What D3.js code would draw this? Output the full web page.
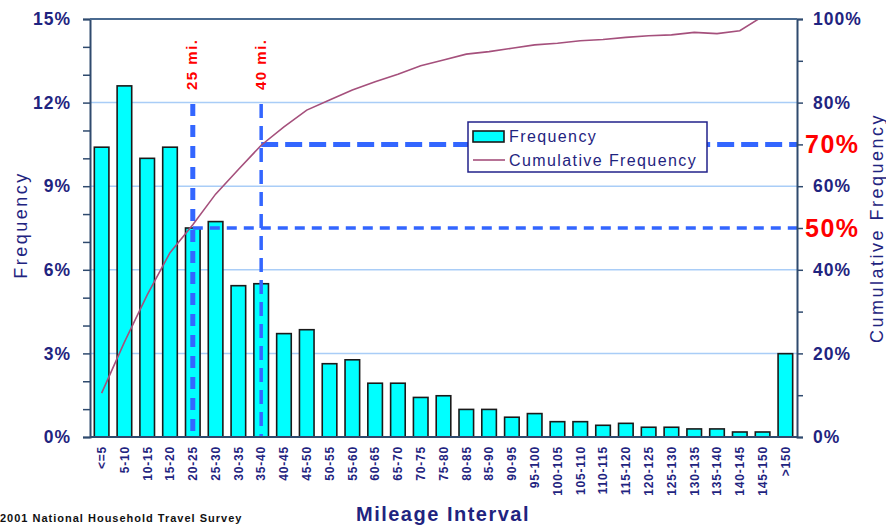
<!DOCTYPE html>
<html><head><meta charset="utf-8">
<script src="https://cdn.jsdelivr.net/npm/d3@7"></script>
<style>
html,body{margin:0;padding:0;background:#fff;}
svg{display:block;font-family:"Liberation Sans",Arial,sans-serif;}
</style></head>
<body>
<svg id="chart" width="886" height="525"></svg>
<script>
const categories = ["<=5","5-10","10-15","15-20","20-25","25-30","30-35","35-40","40-45","45-50","50-55","55-60","60-65","65-70","70-75","75-80","80-85","85-90","90-95","95-100","100-105","105-110","110-115","115-120","120-125","125-130","130-135","135-140","140-145","145-150",">150"];
const frequency = [10.4,12.6,10.0,10.4,7.5,7.73,5.43,5.5,3.71,3.85,2.63,2.77,1.93,1.93,1.42,1.48,0.99,0.99,0.71,0.84,0.55,0.55,0.42,0.49,0.35,0.35,0.29,0.29,0.18,0.18,2.99];
const cumulative = [10.5,22.7,34.0,44.1,50.8,58.1,64.0,69.8,74.2,78.2,80.6,83.0,85.0,86.8,88.8,90.2,91.6,92.2,93.0,93.8,94.2,94.8,95.1,95.6,96.0,96.2,96.8,96.5,97.2,100.6,104];
const leftTicks = [0,3,6,9,12,15];
const rightTicks = [0,20,40,60,80,100];
const gridValues = [20,40,60,80];
const markers = [{label:"25 mi.", cat:"20-25", pct:50, big:"v"}, {label:"40 mi.", cat:"35-40", pct:70, big:"h"}];
const seriesNames = ["Frequency","Cumulative Frequency"];
const xTitle = "Mileage Interval";
const yTitle = "Frequency";
const y2Title = "Cumulative Frequency";
const sourceNote = "2001 National Household Travel Survey";

const svg = d3.select("#chart");
const L = 90, R = 797, T = 19, B = 437;
const navy = "#1f2480", axisCol = "#2f4a6e", dashCol = "#3366ff", red = "#ff0000";

const x = d3.scaleBand().domain(categories).range([L, R]).paddingInner(0.36).paddingOuter(0.19);
const yL = d3.scaleLinear().domain([0, 15]).range([B, T]);
const yR = d3.scaleLinear().domain([0, 100]).range([B, T]);
const cx = c => x(c) + x.bandwidth() / 2;

// gridlines
svg.append("g").selectAll("line").data(gridValues).join("line")
  .attr("x1", L).attr("x2", R).attr("y1", d => yR(d)).attr("y2", d => yR(d))
  .attr("stroke", "#a9cdf7").attr("stroke-width", 1.5);

// bars
svg.append("g").selectAll("rect").data(categories).join("rect")
  .attr("x", d => x(d)).attr("width", x.bandwidth())
  .attr("y", (d, i) => yL(frequency[i])).attr("height", (d, i) => B - yL(frequency[i]))
  .attr("fill", "#00ffff").attr("stroke", "#1a1a1a").attr("stroke-width", 1.6);

// dashed reference lines
markers.forEach(m => {
  const vx = cx(m.cat), hy = yR(m.pct);
  svg.append("line").attr("x1", vx).attr("x2", vx).attr("y1", yR(80) + 1.5).attr("y2", B)
    .attr("stroke", dashCol).attr("stroke-width", m.big === "v" ? 5 : 3.5)
    .attr("stroke-dasharray", m.big === "v" ? "12,9" : "14,8");
  svg.append("line").attr("x1", vx).attr("x2", R).attr("y1", hy).attr("y2", hy)
    .attr("stroke", dashCol).attr("stroke-width", m.big === "h" ? 5 : 3.5)
    .attr("stroke-dasharray", m.big === "h" ? "17,7" : "10,7");
  svg.append("text").attr("transform", `translate(${vx - 1},90) rotate(-90)`)
    .attr("dy", "0.36em").attr("text-anchor", "start")
    .attr("font-size", 15).attr("font-weight", "bold").attr("letter-spacing", 1.5)
    .attr("fill", red).text(m.label);
  svg.append("text").attr("x", 805).attr("y", hy).attr("dy", "0.36em")
    .attr("font-size", 25).attr("font-weight", "bold").attr("letter-spacing", 1.5)
    .attr("fill", red).text(m.pct + "%");
});

// cumulative line
svg.append("clipPath").attr("id", "clip").append("rect")
  .attr("x", L).attr("y", T).attr("width", R - L).attr("height", B - T);
svg.append("path").datum(categories)
  .attr("clip-path", "url(#clip)")
  .attr("d", d3.line().x(d => cx(d)).y((d, i) => yR(cumulative[i])))
  .attr("fill", "none").attr("stroke", "#a5507c").attr("stroke-width", 1.6);

// legend
const lg = svg.append("g").attr("transform", "translate(468,122)");
lg.append("rect").attr("width", 239).attr("height", 50).attr("fill", "#fff")
  .attr("stroke", "#22228a").attr("stroke-width", 1.5);
lg.append("rect").attr("x", 5).attr("y", 9).attr("width", 31).attr("height", 11)
  .attr("fill", "#00ffff").attr("stroke", "#1a1a1a").attr("stroke-width", 1.6);
lg.append("line").attr("x1", 5).attr("x2", 37).attr("y1", 38).attr("y2", 38)
  .attr("stroke", "#a5507c").attr("stroke-width", 1.6);
lg.selectAll("text.lt").data(seriesNames).join("text").attr("class", "lt")
  .attr("x", 41).attr("y", (d, i) => 14 + i * 24).attr("dy", "0.36em")
  .attr("font-size", 16).attr("fill", navy).attr("letter-spacing", 1.4).text(d => d);

// axes
const gL = svg.append("g").attr("transform", `translate(${L},0)`)
  .call(d3.axisLeft(yL).tickValues(d3.range(0, 16, 1)).tickSize(7).tickPadding(12)
    .tickFormat(d => leftTicks.includes(d) ? d + "%" : ""));
const gR = svg.append("g").attr("transform", `translate(${R},0)`)
  .call(d3.axisRight(yR).tickValues(d3.range(0, 101, 10)).tickSize(6).tickPadding(10)
    .tickFormat(d => rightTicks.includes(d) ? d + "%" : ""));
[gL, gR].forEach(g => {
  g.select(".domain").attr("stroke", axisCol).attr("stroke-width", 2);
  g.selectAll(".tick line").attr("stroke", axisCol).attr("stroke-width", 1.5);
  g.selectAll(".tick text").attr("fill", navy).attr("font-size", 17.5)
    .attr("font-weight", "bold").attr("letter-spacing", 1)
    .attr("font-family", "Liberation Sans, Arial, sans-serif");
});
// top border and bottom axis
svg.append("line").attr("x1", L).attr("x2", R).attr("y1", T).attr("y2", T)
  .attr("stroke", "#4a6a90").attr("stroke-width", 2);
svg.append("line").attr("x1", L).attr("x2", R).attr("y1", B).attr("y2", B)
  .attr("stroke", axisCol).attr("stroke-width", 2);

// category labels
svg.append("g").selectAll("text").data(categories).join("text")
  .attr("transform", d => `translate(${cx(d)},446) rotate(-90)`)
  .attr("dy", "0.36em").attr("text-anchor", "end")
  .attr("font-size", 12).attr("font-weight", "bold").attr("letter-spacing", 0.8)
  .attr("fill", navy).text(d => d);

// titles
svg.append("text").attr("transform", "translate(21,225) rotate(-90)")
  .attr("text-anchor", "middle").attr("dy", "0.36em")
  .attr("font-size", 18).attr("letter-spacing", 2.5).attr("fill", navy).text(yTitle);
svg.append("text").attr("transform", "translate(877,228) rotate(-90)")
  .attr("text-anchor", "middle").attr("dy", "0.36em")
  .attr("font-size", 18).attr("letter-spacing", 2.5).attr("fill", navy).text(y2Title);
svg.append("text").attr("x", 443).attr("y", 521).attr("text-anchor", "middle")
  .attr("font-size", 20).attr("font-weight", "bold").attr("letter-spacing", 1.5)
  .attr("fill", navy).text(xTitle);
svg.append("text").attr("x", 0).attr("y", 522)
  .attr("font-size", 11).attr("font-weight", "bold").attr("letter-spacing", 1)
  .attr("fill", "#111").text(sourceNote);
</script>
</body></html>
